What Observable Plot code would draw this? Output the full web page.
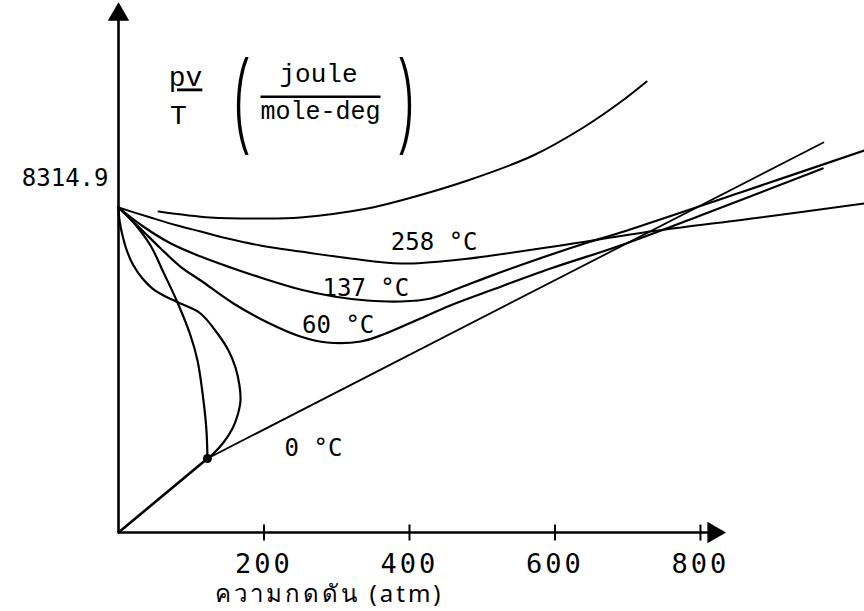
<!DOCTYPE html>
<html><head><meta charset="utf-8">
<script src="https://cdn.jsdelivr.net/npm/d3@7"></script>
<script src="https://cdn.jsdelivr.net/npm/@observablehq/plot@0.6"></script>
<style>body{margin:0;background:#fff} svg{display:block}
.uline{text-decoration:underline;text-decoration-thickness:2px;text-underline-offset:6px;text-decoration-skip-ink:none}
.oline{text-decoration:overline;text-decoration-thickness:2px;text-decoration-skip-ink:none}
</style>
</head><body><div id="chart"></div>
<script>
// x axis ticks (atm) and the single y value label
const xTicks = [200, 400, 600, 800];
const yRef = 8314.9;
const xLabel = "ความกดดัน (atm)";

// top curve (unlabelled)
const pTop = [55, 126, 195, 250, 342, 388, 480, 570, 639, 693, 726];
const vTop = [8212, 8059, 8033, 8059, 8289, 8494, 9006, 9645, 10362, 11052, 11538];
// 258 °C
const p258 = [0, 44, 81, 113, 150, 195, 250, 319, 388, 470, 511, 608, 722, 882, 1025];
const v258 = [8315, 8059, 7854, 7701, 7522, 7343, 7189, 7010, 6882, 6984, 7080, 7343, 7675, 8059, 8417];
// 137 °C
const p137 = [0, 34, 72, 113, 154, 195, 250, 296, 342, 388, 429, 470, 511, 571, 645, 686, 855, 1025];
const v137 = [8315, 7829, 7394, 7061, 6780, 6524, 6217, 6038, 5935, 5910, 5987, 6268, 6560, 6960, 7419, 7650, 8699, 9773];
// 60 °C
const p60 = [0, 30, 58, 85, 113, 158, 205, 250, 287, 333, 364, 415, 456, 511, 594, 686, 800, 968];
const v60 = [8315, 7778, 7266, 6805, 6447, 5859, 5373, 5014, 4861, 4887, 5066, 5475, 5808, 6191, 6754, 7317, 8110, 9313];
// 0 °C : steep branch, bulge branch, liquid line, high-pressure line
const pSteep = [0, 20.6, 44, 61.9, 81.1, 99, 108.6, 116.8, 120.9, 122.3];
const vSteep = [8315, 7931, 7343, 6652, 5884, 5040, 4400, 3377, 2610, 1893];
const pBulge = [0, 1.4, 5.5, 12.4, 20.6, 33, 46.7, 64.6, 85.2, 112.7, 136.1, 151.2, 160.8, 166.3, 167.7, 163.6, 156.7, 144.3, 130.6, 122.3];
const vBulge = [8315, 7982, 7598, 7164, 6831, 6498, 6242, 6038, 5859, 5603, 5091, 4656, 4221, 3761, 3377, 2993, 2661, 2303, 2021, 1893];
const pLiquid = [0, 122.3];
const vLiquid = [0, 1893];
const p0 = [122.3, 969];
const v0 = [1893, 9978];

// curve labels
const labels = ["258 °C", "137 °C", "60 °C", "0 °C"];
const labelP = [434, 340, 302, 268];
const labelV = [7419, 6242, 5296, 2149];

// axis extents
const xArrow = 818;
const yArrow = 13250;

const rows = (ps, vs) => ps.map((p, i) => ({p, v: vs[i]}));
const tickSym = {draw(ctx, size) { const r = Math.sqrt(size / Math.PI); ctx.moveTo(0, -r); ctx.lineTo(0, r); }};

const mono = "DejaVu Sans Mono";
const typew = "Liberation Mono";
const ctr = {frameAnchor: "top-left", textAnchor: "middle", lineAnchor: "middle", fill: "black"};

const chart = Plot.plot({
  width: 864, height: 611,
  marginLeft: 118, marginRight: 0, marginTop: 0, marginBottom: 79,
  x: {domain: [0, 1025.5], axis: null},
  y: {domain: [0, 13611], axis: null},
  style: {background: "white", color: "black"},
  marks: [
    // axes
    Plot.ruleX([0], {y1: 0, y2: yArrow, stroke: "black", strokeWidth: 2.6}),
    Plot.dot([0], {x: 0, y: yArrow, symbol: "triangle", r: 7, fill: "black", stroke: "black"}),
    Plot.ruleY([0], {x1: 0, x2: xArrow, stroke: "black", strokeWidth: 2.4}),
    Plot.dot([0], {x: xArrow, y: 0, symbol: "triangle", rotate: 90, r: 7, fill: "black", stroke: "black"}),
    Plot.dot(xTicks, {x: d => d, y: 0, symbol: tickSym, r: 8, stroke: "black", strokeWidth: 2}),
    Plot.text(xTicks, {x: d => d, y: 0, dy: 32, text: d => String(d), fontSize: 27, fontFamily: mono, fill: "black"}),
    Plot.text([yRef], {x: 0, y: d => d, text: d => String(d), textAnchor: "end", dx: -10, dy: -29, fontSize: 24, fontFamily: mono, fill: "black"}),
    Plot.text([xLabel], {x: 290, y: 0, dy: 62, text: d => d, fontSize: 24, fontFamily: "Noto Sans, DejaVu Sans, sans-serif", fill: "black"}),

    // curves
    Plot.line(rows(pTop, vTop), {x: "p", y: "v", curve: "catmull-rom", stroke: "black", strokeWidth: 2}),
    Plot.line(rows(p258, v258), {x: "p", y: "v", curve: "catmull-rom", stroke: "black", strokeWidth: 2}),
    Plot.line(rows(p137, v137), {x: "p", y: "v", curve: "catmull-rom", stroke: "black", strokeWidth: 2.2}),
    Plot.line(rows(p60, v60), {x: "p", y: "v", curve: "catmull-rom", stroke: "black", strokeWidth: 2.2}),
    Plot.line(rows(pSteep, vSteep), {x: "p", y: "v", curve: "catmull-rom", stroke: "black", strokeWidth: 2.2}),
    Plot.line(rows(pBulge, vBulge), {x: "p", y: "v", curve: "catmull-rom", stroke: "black", strokeWidth: 2.2}),
    Plot.line(rows(pLiquid, vLiquid), {x: "p", y: "v", stroke: "black", strokeWidth: 2.6}),
    Plot.line(rows(p0, v0), {x: "p", y: "v", stroke: "black", strokeWidth: 1.8}),
    Plot.dot([{p: p0[0], v: v0[0]}], {x: "p", y: "v", r: 4.5, fill: "black"}),

    // curve labels
    Plot.text(labels, {x: (d, i) => labelP[i], y: (d, i) => labelV[i], text: d => d, fontSize: 24, fontFamily: mono, fill: "black"}),

    // y-quantity label: pv/T (joule / mole-deg)
    Plot.text(["pv"], {...ctr, dx: 67, dy: 77, text: d => d, fontSize: 28, fontFamily: typew, className: "uline"}),
    Plot.text(["T"], {...ctr, dx: 60, dy: 115, text: d => d, fontSize: 28, fontFamily: typew}),
    Plot.text(["("], {...ctr, dx: 124, dy: 101, text: d => d, fontSize: 36, fontWeight: 300, fontFamily: "Noto Sans"}),
    Plot.text(["joule"], {...ctr, dx: 200, dy: 73, text: d => d, fontSize: 26, fontFamily: typew}),
    Plot.text(["mole-deg"], {...ctr, dx: 202, dy: 110, text: d => d, fontSize: 25, fontFamily: typew, className: "oline"}),
    Plot.text([")"], {...ctr, dx: 287, dy: 101, text: d => d, fontSize: 36, fontWeight: 300, fontFamily: "Noto Sans"})
  ]
});
// thin, tall parentheses: stretch the glyphs vertically; spacing of axis texts
d3.select(chart).selectAll("text").each(function() {
  const t = this.textContent;
  if (t === "(" || t === ")") {
    const tr = this.getAttribute("transform") || "";
    this.setAttribute("transform", tr + " scale(1.6,3.1)");
  } else if (t === xLabel) {
    this.setAttribute("letter-spacing", "3");
  } else if (xTicks.map(String).includes(t)) {
    this.setAttribute("letter-spacing", "3");
  }
});
document.getElementById("chart").append(chart);
</script>
</body></html>
